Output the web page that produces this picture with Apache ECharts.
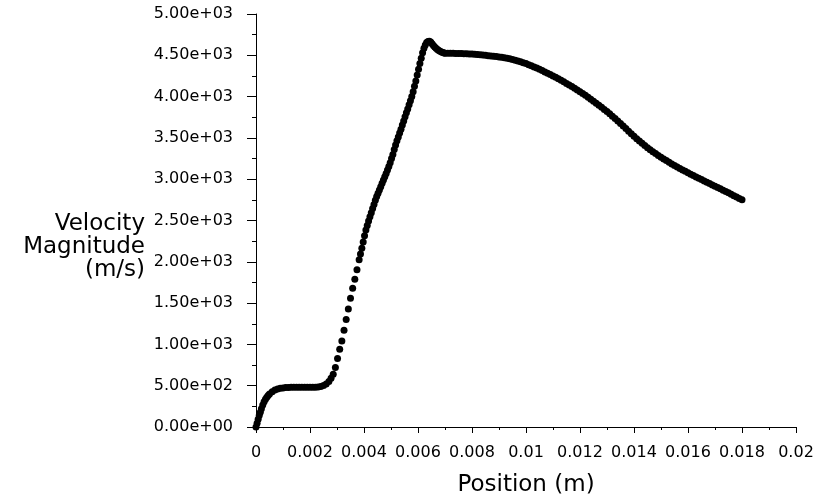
<!DOCTYPE html>
<html>
<head>
<meta charset="utf-8">
<title>Velocity Magnitude</title>
<script src="https://cdn.jsdelivr.net/npm/echarts@6/dist/echarts.min.js"></script>
<style>
  html, body { margin: 0; padding: 0; background: #fff; }
  #chart { width: 817px; height: 502px; }
</style>
</head>
<body>
<div id="chart"></div>
<script>
// position along the line, in mm (converted to m for the axis)
var positionMm = [
  0, 0.04, 0.08, 0.12, 0.16, 0.2, 0.25, 0.3, 0.35, 0.4, 0.45, 0.5, 0.6, 0.7, 0.8, 0.9,
  1.0, 1.1, 1.2, 1.3, 1.4, 1.5, 1.6, 1.7, 1.8, 1.9, 2.0, 2.1, 2.2, 2.3, 2.4, 2.5, 2.6, 2.7, 2.78,
  2.86, 2.94, 3.02, 3.10, 3.18, 3.26, 3.34, 3.42, 3.50, 3.58, 3.66, 3.74, 3.82,
  3.87, 3.92, 3.97, 4.02, 4.07, 4.12, 4.17, 4.22, 4.27, 4.32, 4.37, 4.42, 4.47, 4.52, 4.57, 4.62,
  4.67, 4.72, 4.77, 4.82, 4.87, 4.92, 4.97, 5.02, 5.07, 5.12, 5.17, 5.22, 5.27, 5.32, 5.37, 5.42,
  5.47, 5.52, 5.57, 5.62, 5.67, 5.72, 5.77, 5.82, 5.87, 5.92, 5.97, 6.02, 6.07, 6.12, 6.17, 6.22,
  6.27, 6.32, 6.37, 6.42, 6.47, 6.52, 6.57, 6.62, 6.67, 6.72, 6.77, 6.82, 6.87, 6.92, 6.97,
  7.0, 7.1, 7.2, 7.3, 7.4, 7.5, 7.6, 7.7, 7.8, 7.9, 8.0, 8.1, 8.2, 8.3, 8.4, 8.5, 8.6, 8.7, 8.8, 8.9,
  9.0, 9.1, 9.2, 9.3, 9.4, 9.5, 9.6, 9.7, 9.8, 9.9, 10.0, 10.1, 10.2, 10.3, 10.4, 10.5, 10.6, 10.7, 10.8, 10.9,
  11.0, 11.1, 11.2, 11.3, 11.4, 11.5, 11.6, 11.7, 11.8, 11.9, 12.0, 12.1, 12.2, 12.3, 12.4, 12.5, 12.6, 12.7, 12.8, 12.9,
  13.0, 13.1, 13.2, 13.3, 13.4, 13.5, 13.6, 13.7, 13.8, 13.9, 14.0, 14.1, 14.2, 14.3, 14.4, 14.5, 14.6, 14.7, 14.8, 14.9,
  15.0, 15.1, 15.2, 15.3, 15.4, 15.5, 15.6, 15.7, 15.8, 15.9, 16.0, 16.1, 16.2, 16.3, 16.4, 16.5, 16.6, 16.7, 16.8, 16.9,
  17.0, 17.1, 17.2, 17.3, 17.4, 17.5, 17.6, 17.7, 17.8, 17.9, 18.0
];

// velocity magnitude (m/s) at each position
var velocity = [
  0, 45, 95, 140, 180, 220, 265, 305, 335, 360, 382, 400, 428, 447, 460, 468,
  473, 477, 479, 480, 480, 480, 480, 480, 480, 480, 480, 480, 480, 483, 490, 502, 522, 552, 590,
  640, 720, 830, 940, 1040, 1170, 1300, 1430, 1560, 1680, 1790, 1905, 2025,
  2095, 2165, 2240, 2315, 2385, 2440, 2495, 2545, 2595, 2645, 2695, 2745, 2790, 2830, 2870, 2910,
  2950, 2990, 3030, 3070, 3110, 3155, 3200, 3250, 3300, 3360, 3415, 3465, 3510, 3560, 3605, 3655,
  3705, 3755, 3805, 3850, 3900, 3950, 4000, 4060, 4125, 4190, 4260, 4330, 4400, 4465, 4530, 4585,
  4625, 4655, 4668, 4670, 4660, 4640, 4620, 4600, 4585, 4570, 4558, 4548, 4540, 4534, 4529,
  4525, 4525, 4525, 4524, 4523, 4522, 4521, 4519, 4518, 4516, 4515, 4512, 4509, 4506, 4503, 4500, 4496, 4492, 4488, 4484,
  4480, 4475, 4470, 4464, 4457, 4450, 4441, 4432, 4422, 4411, 4400, 4387, 4373, 4359, 4345, 4330, 4315, 4299, 4283, 4267,
  4250, 4233, 4215, 4197, 4179, 4160, 4141, 4121, 4101, 4081, 4060, 4038, 4015, 3992, 3969, 3945, 3920, 3895, 3870, 3845,
  3820, 3792, 3763, 3734, 3705, 3675, 3644, 3613, 3582, 3551, 3520, 3491, 3463, 3435, 3407, 3380, 3356, 3333, 3310, 3287,
  3265, 3245, 3225, 3205, 3185, 3165, 3147, 3130, 3112, 3095, 3078, 3061, 3045, 3028, 3012, 2995, 2979, 2963, 2947, 2931,
  2915, 2899, 2883, 2867, 2851, 2835, 2818, 2801, 2784, 2767, 2750
];

var xTicks = [0, 0.002, 0.004, 0.006, 0.008, 0.01, 0.012, 0.014, 0.016, 0.018, 0.02];
var yTicks = [0, 500, 1000, 1500, 2000, 2500, 3000, 3500, 4000, 4500, 5000];

var points = positionMm.map(function (p, i) {
  return [p / 1000, velocity[i]];
});

// 2.50e+03 style labels
function fmtExp(v) {
  var s = Number(v).toExponential(2).split('e');
  var sign = s[1].charAt(0);
  var e = s[1].slice(1);
  if (e.length < 2) e = '0' + e;
  return s[0] + 'e' + sign + e;
}

var font = 'DejaVu Sans';

var myChart = echarts.init(document.getElementById('chart'), null, { renderer: 'canvas' });
var option = {
  animation: false,
  backgroundColor: '#ffffff',
  grid: { left: 256, right: 21, top: 14, bottom: 75, containLabel: false },
  // y axis title sits right-aligned, a bit below the axis middle
  graphic: [{
    type: 'text',
    x: 145,
    y: 213,
    silent: true,
    style: {
      text: 'Velocity\nMagnitude\n(m/s)',
      fill: '#000',
      textAlign: 'right',
      align: 'right',
      verticalAlign: 'top',
      font: '23px "DejaVu Sans"',
      lineHeight: 23
    }
  }],
  xAxis: {
    type: 'value',
    min: xTicks[0],
    max: xTicks[xTicks.length - 1],
    interval: 0.002,
    name: 'Position (m)',
    nameLocation: 'middle',
    nameGap: 47,
    nameTextStyle: { color: '#000', fontFamily: font, fontSize: 23 },
    axisLine: { show: true, lineStyle: { color: '#000', width: 1 } },
    axisTick: { show: true, inside: false, length: 6, lineStyle: { color: '#000' } },
    minorTick: { show: true, splitNumber: 2, length: 3, lineStyle: { color: '#000' } },
    splitLine: { show: false },
    axisLabel: {
      color: '#000', fontFamily: font, fontSize: 16, margin: 18,
      formatter: function (v) { return String(+v.toFixed(3)); }
    }
  },
  yAxis: {
    type: 'value',
    min: yTicks[0],
    max: yTicks[yTicks.length - 1],
    interval: 500,
    axisLine: { show: true, lineStyle: { color: '#000', width: 1 } },
    axisTick: { show: true, inside: false, length: 9, lineStyle: { color: '#000' } },
    minorTick: { show: true, splitNumber: 2, length: 4, lineStyle: { color: '#000' } },
    splitLine: { show: false },
    axisLabel: {
      color: '#000', fontFamily: font, fontSize: 16, margin: 23,
      formatter: fmtExp
    }
  },
  series: [{
    type: 'scatter',
    data: points,
    symbol: 'circle',
    symbolSize: 7,
    itemStyle: { color: '#000', opacity: 1 },
    silent: true
  }]
};
myChart.setOption(option);
</script>
</body>
</html>
